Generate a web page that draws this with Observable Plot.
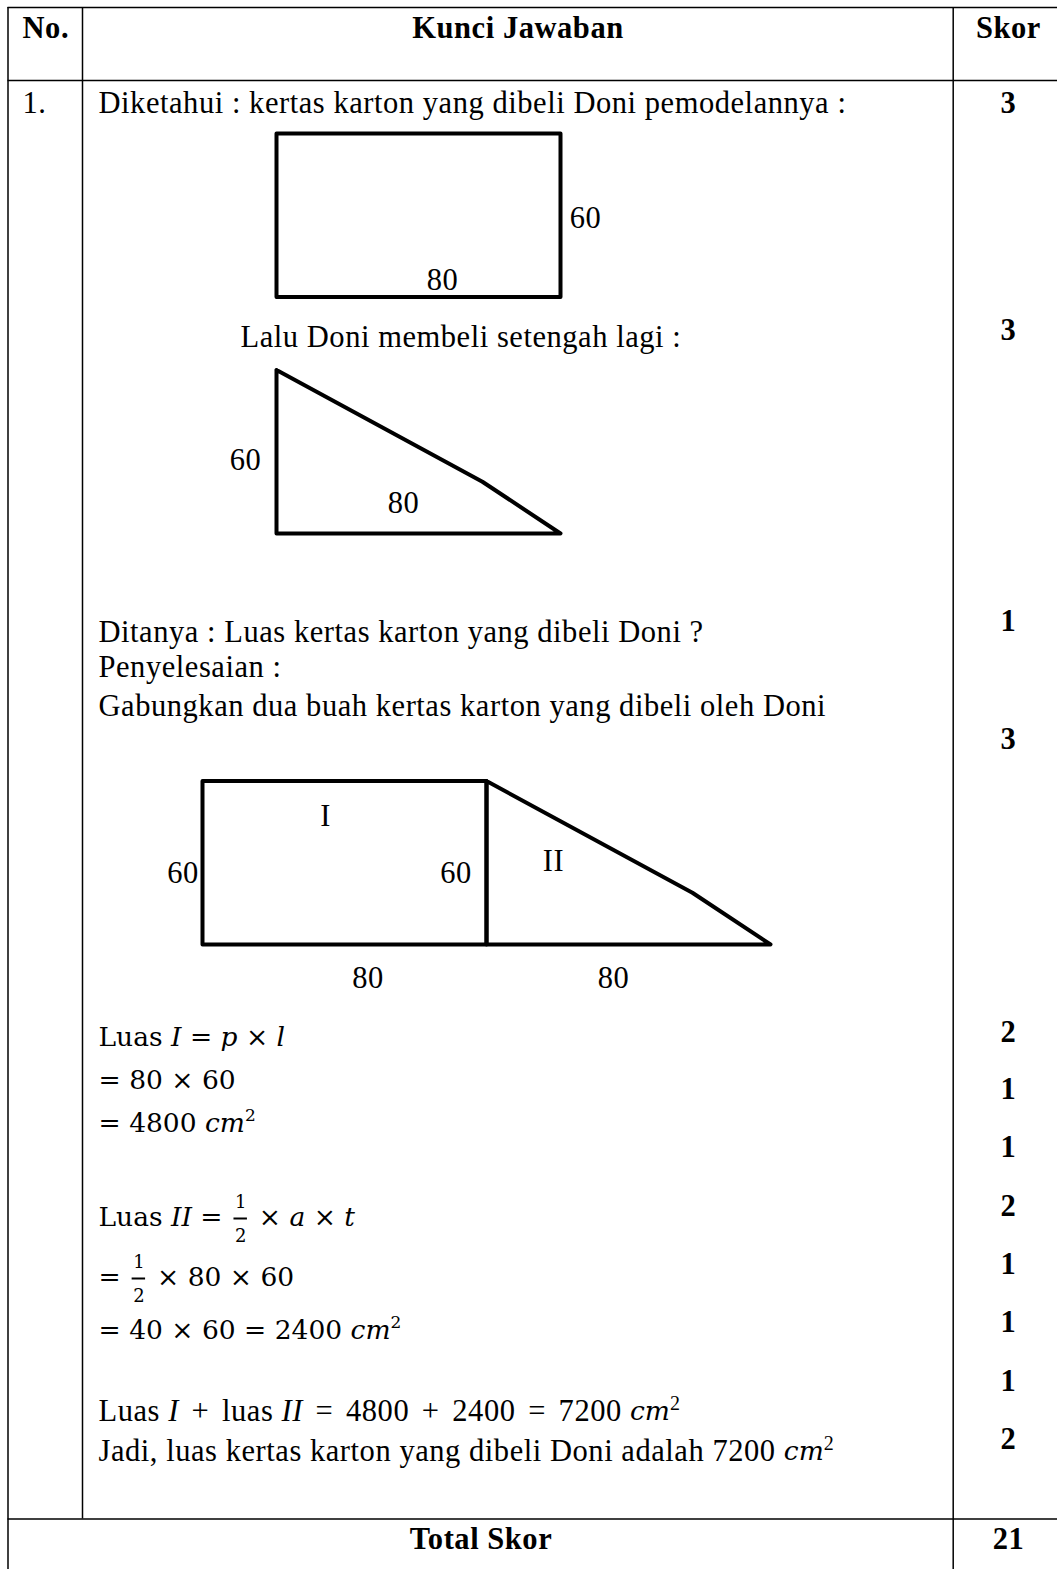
<!DOCTYPE html>
<html>
<head>
<meta charset="utf-8">
<script src="https://cdn.jsdelivr.net/npm/d3@7"></script>
<script src="https://cdn.jsdelivr.net/npm/@observablehq/plot@0.6"></script>
<style>
  html, body { margin: 0; padding: 0; background: #fff; }
  #chart svg { display: block; }
</style>
</head>
<body>
<div id="chart"></div>
<script>
// ---------------- content ----------------
const headers = ["No.", "Kunci Jawaban", "Skor"];
const questionNo = "1.";
const scores = [3, 3, 1, 3, 2, 1, 1, 2, 1, 1, 1, 2];
const totalLabel = "Total Skor";
const totalScore = 21;

const textLines = [
  "Diketahui : kertas karton yang dibeli Doni pemodelannya :",
  "Lalu Doni membeli setengah lagi :",
  "Ditanya : Luas kertas karton yang dibeli Doni ?",
  "Penyelesaian :",
  "Gabungkan dua buah kertas karton yang dibeli oleh Doni"
];

// shape dimensions (cm) and the drawn outlines in those units
const panjang = 80;
const lebar = 60;
const rectShape = [[0, 0], [panjang, 0], [panjang, lebar], [0, lebar], [0, 0]];
const triShape = [[0, lebar], [58, 19], [panjang, 0], [0, 0], [0, lebar]];
const figLabels1 = ["60", "80"];
const figLabels2 = ["60", "80"];
const figLabels3 = ["I", "60", "60", "II", "80", "80"];

// solution lines as runs: [text, kind]
const mathLines = [
  [["Luas ", "m"], ["I", "mi"], [" = ", "m"], ["p", "mi"], [" × ", "m"], ["l", "mi"]],
  [["= 80 × 60", "m"]],
  [["= 4800 ", "m"], ["cm", "mi"], ["2", "msup"]],
  [["Luas ", "m"], ["II", "mi"], [" = ", "m"], ["1/2", "frac"], [" × ", "m"], ["a", "mi"], [" × ", "m"], ["t", "mi"]],
  [["= ", "m"], ["1/2", "frac"], [" × 80 × 60", "m"]],
  [["= 40 × 60 = 2400 ", "m"], ["cm", "mi"], ["2", "msup"]],
  [["Luas ", "t"], ["I", "ti"], [" + ", "to"], ["luas ", "t"], ["II", "ti"], [" = ", "to"], ["4800", "t"],
   [" + ", "to"], ["2400", "t"], [" = ", "to"], ["7200 ", "t"], ["cm", "mi"], ["2", "tsup"]],
  [["Jadi, luas kertas karton yang dibeli Doni adalah 7200 ", "t"], ["cm", "mi"], ["2", "tsup"]]
];

// ---------------- layout ----------------
const W = 1057, H = 1569;
const TIMES = "'Liberation Serif', 'Times New Roman', serif";
const MATH = "'DejaVu Serif', serif";
const TIMES_LS = 0.55; // letter spacing (px) for the Times-style text
const layout = {
  tableTop: 7, headerBottom: 80, bodyBottom: 1518.5,
  colX: [7.5, 82, 952.7],
  headerY: 28,
  headerX: [22, 517.5, 1008],
  noX: 22,
  textX: 98,
  textPos: [[98, 102.5], [240, 337], [98, 632], [98, 667], [98, 706]],
  scoreX: 1008,
  scoreY: [103, 330, 621, 739, 1032, 1089, 1147, 1206, 1264, 1322, 1381, 1439],
  totalY: 1538.5,
  totalX: 480.5,
  mathY: [1037, 1080, 1123, 1217, 1277, 1330, 1411, 1451],
  fracPad: 3, fracNumDy: -15, fracDenDy: 19, fracBarDy: 1,
  supDy: -8,
  sx: 284 / panjang, sy: 163.5 / lebar,
  fig1Rect: [276, 296.5],
  fig2Tri: [276, 533],
  fig3Rect: [202, 944],
  fig3Tri: [486, 944],
  fig1LabelPos: [[585, 218], [442, 280]],
  fig2LabelPos: [[245, 460], [403, 503]],
  fig3LabelPos: [[325, 816], [182.5, 873], [455.5, 873], [553, 861], [367.5, 978], [613, 978]]
};

const fonts = {
  t:    { family: TIMES, size: 30.5, style: "normal", weight: "normal", anchor: "start", ls: TIMES_LS, pad: 0 },
  ti:   { family: TIMES, size: 30.5, style: "italic", weight: "normal", anchor: "start", ls: TIMES_LS, pad: 0 },
  to:   { family: TIMES, size: 30.5, style: "normal", weight: "normal", anchor: "start", ls: TIMES_LS, pad: 4.5 },
  tb:   { family: TIMES, size: 30.5, style: "normal", weight: "bold", anchor: "start", ls: TIMES_LS, pad: 0 },
  m:    { family: MATH, size: 26.5, style: "normal", weight: "normal", anchor: "start", ls: 0, pad: 0 },
  mi:   { family: MATH, size: 26.5, style: "italic", weight: "normal", anchor: "start", ls: 0, pad: 0 },
  msup: { family: MATH, size: 17, style: "normal", weight: "normal", anchor: "start", ls: 0, pad: 0 },
  tsup: { family: TIMES, size: 20, style: "normal", weight: "normal", anchor: "start", ls: TIMES_LS, pad: 0 },
  frac: { family: MATH, size: 18, style: "normal", weight: "normal", anchor: "middle", ls: 0, pad: 0 },
  tbc:  { family: TIMES, size: 30.5, style: "normal", weight: "bold", anchor: "middle", ls: TIMES_LS, pad: 0 },
  tc:   { family: TIMES, size: 30.5, style: "normal", weight: "normal", anchor: "middle", ls: TIMES_LS, pad: 0 }
};

const ctx = document.createElement("canvas").getContext("2d");
function measure(str, f) {
  ctx.font = `${f.style} ${f.weight} ${f.size}px ${f.family}`;
  return ctx.measureText(str).width + f.ls * str.length;
}

function build() {
  const items = [];
  const fracBars = [];

  // headers
  items.push({ x: layout.headerX[0], y: layout.headerY, text: headers[0], kind: "tb" });
  items.push({ x: layout.headerX[1], y: layout.headerY, text: headers[1], kind: "tbc" });
  items.push({ x: layout.headerX[2], y: layout.headerY, text: headers[2], kind: "tbc" });
  items.push({ x: layout.noX, y: layout.textPos[0][1], text: questionNo, kind: "t" });

  textLines.forEach((s, i) => items.push({ x: layout.textPos[i][0], y: layout.textPos[i][1], text: s, kind: "t" }));
  scores.forEach((s, i) => items.push({ x: layout.scoreX, y: layout.scoreY[i], text: String(s), kind: "tbc" }));
  items.push({ x: layout.totalX, y: layout.totalY, text: totalLabel, kind: "tbc" });
  items.push({ x: layout.scoreX, y: layout.totalY, text: String(totalScore), kind: "tbc" });

  figLabels1.forEach((s, i) => items.push({ x: layout.fig1LabelPos[i][0], y: layout.fig1LabelPos[i][1], text: s, kind: "tc" }));
  figLabels2.forEach((s, i) => items.push({ x: layout.fig2LabelPos[i][0], y: layout.fig2LabelPos[i][1], text: s, kind: "tc" }));
  figLabels3.forEach((s, i) => items.push({ x: layout.fig3LabelPos[i][0], y: layout.fig3LabelPos[i][1], text: s, kind: "tc" }));

  mathLines.forEach((runs, i) => {
    let x = layout.textX;
    const y = layout.mathY[i];
    for (const [txt, kind] of runs) {
      if (kind === "frac") {
        const [n, d] = txt.split("/");
        const f = fonts.frac;
        const w = Math.max(measure(n, f), measure(d, f)) + 2;
        const cx = x + layout.fracPad + w / 2;
        items.push({ x: cx, y: y + layout.fracNumDy, text: n, kind: "frac" });
        items.push({ x: cx, y: y + layout.fracDenDy, text: d, kind: "frac" });
        fracBars.push({ x1: cx - w / 2, x2: cx + w / 2, y: y + layout.fracBarDy });
        x += w + 2 * layout.fracPad;
      } else {
        const f = fonts[kind];
        const lead = txt.match(/^\s*/)[0];
        const dy = kind.endsWith("sup") ? layout.supDy : 0;
        items.push({ x: x + f.pad + measure(lead, f), y: y + dy, text: txt.trim(), kind });
        x += measure(txt, f) + 2 * f.pad;
      }
    }
  });

  // shapes
  const shapes = [];
  const place = (pts, origin, id) => pts.forEach(([u, v]) =>
    shapes.push({ id, x: origin[0] + u * layout.sx, y: origin[1] - v * layout.sy }));
  place(rectShape, layout.fig1Rect, "r1");
  place(triShape, layout.fig2Tri, "t1");
  place(rectShape, layout.fig3Rect, "r2");
  place(triShape, layout.fig3Tri, "t2");

  const hLines = [layout.tableTop, layout.headerBottom, layout.bodyBottom]
    .map(y => ({ y, x1: layout.colX[0], x2: W }));
  const vLines = [
    { x: layout.colX[0], y1: layout.tableTop, y2: H },
    { x: layout.colX[1], y1: layout.tableTop, y2: layout.bodyBottom },
    { x: layout.colX[2], y1: layout.tableTop, y2: H }
  ];

  const textMarks = Object.keys(fonts).map(k => {
    const f = fonts[k];
    return Plot.text(items.filter(d => d.kind === k), {
      x: "x", y: "y", text: "text",
      textAnchor: f.anchor, fontFamily: f.family, fontSize: f.size,
      fontStyle: f.style, fontWeight: f.weight, fill: "black"
    });
  });

  const chart = Plot.plot({
    width: W, height: H, margin: 0,
    x: { domain: [0, W], range: [0, W], axis: null },
    y: { domain: [0, H], range: [0, H], axis: null },
    style: { background: "white", overflow: "visible" },
    marks: [
      Plot.ruleY(hLines, { y: "y", x1: "x1", x2: "x2", stroke: "black", strokeWidth: 1.5 }),
      Plot.ruleX(vLines, { x: "x", y1: "y1", y2: "y2", stroke: "black", strokeWidth: 1.5 }),
      Plot.line(shapes, { x: "x", y: "y", z: "id", stroke: "black", strokeWidth: 4,
        strokeLinejoin: "round", strokeLinecap: "round", curve: "linear" }),
      Plot.ruleY(fracBars, { y: "y", x1: "x1", x2: "x2", stroke: "black", strokeWidth: 2 }),
      ...textMarks
    ]
  });
  // letter spacing for the Times-style groups
  d3.select(chart).selectAll("g")
    .filter(function () { return (this.getAttribute("font-family") || "").includes("Liberation"); })
    .attr("letter-spacing", TIMES_LS);
  document.getElementById("chart").appendChild(chart);
}

(document.fonts && document.fonts.ready ? document.fonts.ready : Promise.resolve()).then(build);
</script>
</body>
</html>
